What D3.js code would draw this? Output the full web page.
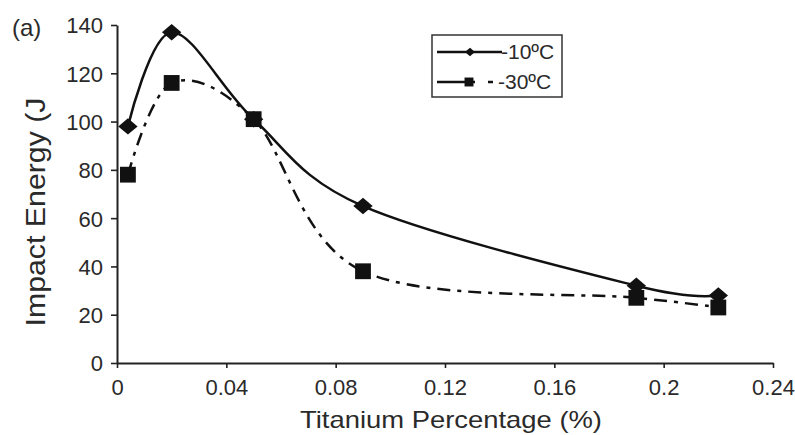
<!DOCTYPE html>
<html>
<head>
<meta charset="utf-8">
<script src="https://d3js.org/d3.v7.min.js"></script>
<style>
body { margin: 0; background: #fff; }
text { font-family: "Liberation Sans", Arial, sans-serif; fill: #2a2a2a; }
</style>
</head>
<body>
<div id="chart"></div>
<script>
// values
var titanium = [0.004, 0.02, 0.05, 0.09, 0.19, 0.22];
var energyMinus10 = [98, 137, 101, 65, 32, 28];
var energyMinus30 = [78, 116, 101, 38, 27, 23];
var xTicks = [0, 0.04, 0.08, 0.12, 0.16, 0.2, 0.24];
var yTicks = [0, 20, 40, 60, 80, 100, 120, 140];
var seriesNames = ["-10ºC", "-30ºC"];

var W = 795, H = 435;
var margin = {top: 25, right: 22, bottom: 72, left: 117};
var width = W - margin.left - margin.right;
var height = H - margin.top - margin.bottom;

var svg = d3.select("#chart").append("svg")
  .attr("width", W).attr("height", H);

var g = svg.append("g")
  .attr("transform", "translate(" + margin.left + "," + margin.top + ")");

var x = d3.scaleLinear().domain([0, 0.24]).range([0, width]);
var y = d3.scaleLinear().domain([0, 140]).range([height, 0]);

var axisX = d3.axisBottom(x).tickValues(xTicks).tickSize(5).tickSizeOuter(0)
  .tickFormat(function(d){ return d === 0 ? "0" : String(+d.toFixed(2)); });
var axisY = d3.axisLeft(y).tickValues(yTicks).tickSize(6).tickSizeOuter(0);

var gx = g.append("g").attr("transform", "translate(0," + height + ")").call(axisX);
var gy = g.append("g").call(axisY);
[gx, gy].forEach(function(a){
  a.select(".domain").attr("stroke", "#222").attr("stroke-width", 2);
  a.selectAll(".tick line").attr("stroke", "#222").attr("stroke-width", 1.6);
  a.selectAll(".tick text").attr("font-size", 22).attr("fill", "#333")
    .style("font-family", "'Liberation Sans', Arial, sans-serif");
});
gx.selectAll(".tick text").attr("y", 32).attr("dy", 0);
gy.selectAll(".tick text").attr("x", -14).attr("dy", "0.36em");

// Excel-like smoothed lines
var line = d3.line()
  .x(function(d){ return x(d[0]); })
  .y(function(d){ return y(d[1]); })
  .curve(d3.curveCardinal.tension(0));

var d10 = titanium.map(function(t, i){ return [t, energyMinus10[i]]; });
var d30 = titanium.map(function(t, i){ return [t, energyMinus30[i]]; });

// wide diamond like the original markers
var wideDiamond = {
  draw: function(ctx, size){
    var a = Math.sqrt(size) * 0.6, b = a * 0.85;
    ctx.moveTo(0, -b); ctx.lineTo(a, 0); ctx.lineTo(0, b); ctx.lineTo(-a, 0); ctx.closePath();
  }
};

g.append("path").datum(d10).attr("d", line)
  .attr("fill", "none").attr("stroke", "#111").attr("stroke-width", 2.5);

g.selectAll(".m10").data(d10).enter().append("path")
  .attr("d", d3.symbol().type(wideDiamond).size(260))
  .attr("transform", function(d){ return "translate(" + x(d[0]) + "," + y(d[1]) + ")"; })
  .attr("fill", "#111");

g.append("path").datum(d30).attr("d", line)
  .attr("fill", "none").attr("stroke", "#111").attr("stroke-width", 2.5)
  .attr("stroke-dasharray", "13,7,4,7");

g.selectAll(".m30").data(d30).enter().append("path")
  .attr("d", d3.symbol().type(d3.symbolSquare).size(250))
  .attr("transform", function(d){ return "translate(" + x(d[0]) + "," + y(d[1]) + ")"; })
  .attr("fill", "#111");

// legend
var lg = svg.append("g").attr("transform", "translate(432,35)");
lg.append("rect").attr("width", 130).attr("height", 62)
  .attr("fill", "#fff").attr("stroke", "#333").attr("stroke-width", 1.5);
lg.append("line").attr("x1", 5).attr("x2", 70).attr("y1", 17).attr("y2", 17)
  .attr("stroke", "#111").attr("stroke-width", 2.4);
lg.append("path").attr("d", d3.symbol().type(wideDiamond).size(70))
  .attr("transform", "translate(38,17)").attr("fill", "#111");
lg.append("line").attr("x1", 5).attr("x2", 66).attr("y1", 47).attr("y2", 47)
  .attr("stroke", "#111").attr("stroke-width", 2.4)
  .attr("stroke-dasharray", "38,13,5,40");
lg.append("path").attr("d", d3.symbol().type(d3.symbolSquare).size(80))
  .attr("transform", "translate(37,47)").attr("fill", "#111");
lg.selectAll(".lt").data(seriesNames).enter().append("text")
  .attr("x", function(d, i){ return i === 0 ? 69 : 66; })
  .attr("y", function(d, i){ return 24 + i * 30; })
  .attr("font-size", 21).text(function(d){ return d; });

// axis titles
svg.append("text")
  .attr("x", 451).attr("y", 428)
  .attr("text-anchor", "middle").attr("font-size", 24)
  .attr("textLength", 302).attr("lengthAdjust", "spacingAndGlyphs")
  .text("Titanium Percentage (%)");

svg.append("text")
  .attr("transform", "translate(45,212) rotate(-90)")
  .attr("text-anchor", "middle").attr("font-size", 27)
  .attr("textLength", 229).attr("lengthAdjust", "spacingAndGlyphs")
  .text("Impact Energy (J");

svg.append("text").attr("x", 12).attr("y", 36).attr("font-size", 24).text("(a)");
</script>
</body>
</html>
